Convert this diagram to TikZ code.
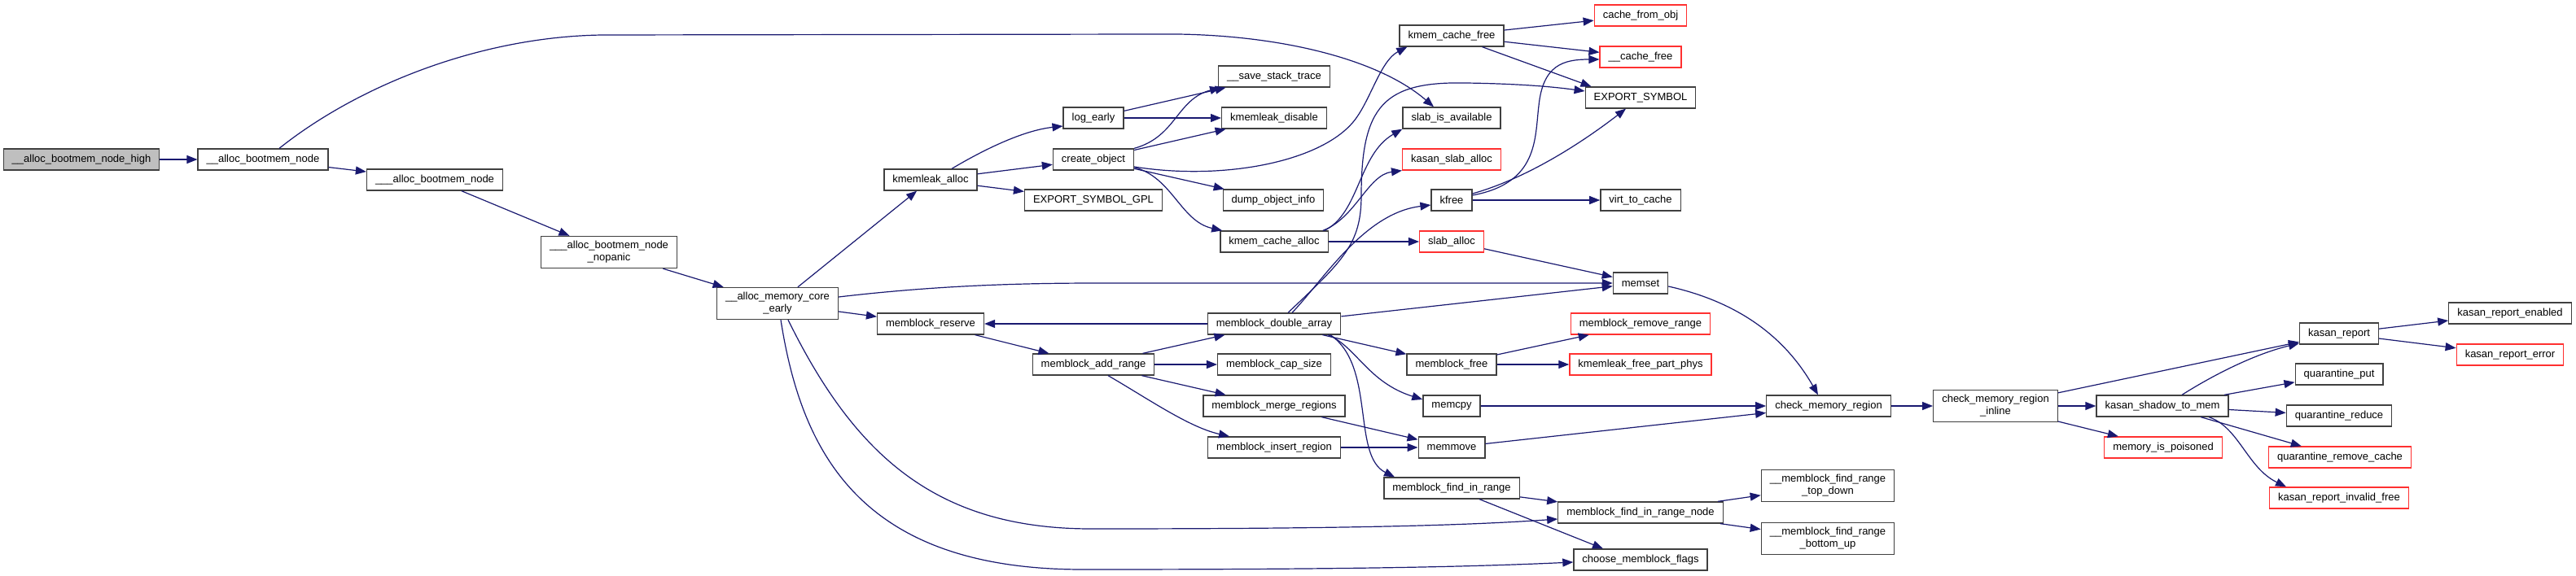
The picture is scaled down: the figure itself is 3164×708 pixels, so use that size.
\documentclass[tikz,border=0pt]{standalone}
\usepackage{fontspec}
\setmainfont{Liberation Sans}
\usetikzlibrary{arrows.meta}
\definecolor{edgeblue}{HTML}{191970}
\definecolor{trunc}{HTML}{FF3030}
\definecolor{rootgray}{HTML}{BFBFBF}

\begin{document}
\begin{tikzpicture}[
  x=1pt, y=-1pt,
  font=\fontsize{13}{15}\selectfont,
  fn/.style={draw=black!75, line width=1.3pt, fill=white, minimum height=26pt,
             inner xsep=10.5pt, inner ysep=6pt, align=center},
  fnred/.style={fn, draw=trunc},
  fnroot/.style={fn, fill=rootgray},
  call/.style={-{Triangle[length=13pt,width=10pt]}, line width=1.2pt, edgeblue}
]
\useasboundingbox (0,0) rectangle (3164,708);
% ---------------- bootmem chain ----------------
\node[fnroot] (root) at (100,196) {\_\_alloc\_bootmem\_node\_high};
\node[fn] (abn) at (323,196) {\_\_alloc\_bootmem\_node};
\node[fn] (abn3) at (534,221) {\_\_\_alloc\_bootmem\_node};
\node[fn] (nopanic) at (748,310) {\_\_\_alloc\_bootmem\_node\\\_nopanic};
\node[fn] (core) at (955,373) {\_\_alloc\_memory\_core\\\_early};
% ---------------- kmemleak ----------------
\node[fn] (kmalloc) at (1143,221) {kmemleak\_alloc};
\node[fn] (logearly) at (1343,145) {log\_early};
\node[fn] (createobj) at (1343,196) {create\_object};
\node[fn] (expgpl) at (1343,246) {EXPORT\_SYMBOL\_GPL};
\node[fn] (savestack) at (1565,94) {\_\_save\_stack\_trace};
\node[fn] (kmdisable) at (1565,145) {kmemleak\_disable};
\node[fn] (dumpobj) at (1564,246) {dump\_object\_info};
\node[fn] (kcalloc) at (1565,297) {kmem\_cache\_alloc};
% ---------------- slab ----------------
\node[fn] (kcfree) at (1783,44) {kmem\_cache\_free};
\node[fn] (slabavail) at (1783,145) {slab\_is\_available};
\node[fnred] (kasanslab) at (1783,196) {kasan\_slab\_alloc};
\node[fn] (kfree) at (1783,246) {kfree};
\node[fnred] (slaballoc) at (1783,297) {slab\_alloc};
\node[fnred] (cachefromobj) at (2015,19) {cache\_from\_obj};
\node[fnred] (cachefree) at (2015,70) {\_\_cache\_free};
\node[fn] (expsym) at (2015,120) {EXPORT\_SYMBOL};
\node[fn] (virtcache) at (2015,246) {virt\_to\_cache};
\node[fn] (memset) at (2015,348) {memset};
% ---------------- memblock ----------------
\node[fn] (mreserve) at (1143,398) {memblock\_reserve};
\node[fn] (maddrange) at (1343,448) {memblock\_add\_range};
\node[fn] (mdouble) at (1565,398) {memblock\_double\_array};
\node[fn] (mcapsize) at (1565,448) {memblock\_cap\_size};
\node[fn] (mmerge) at (1565,499) {memblock\_merge\_regions};
\node[fn] (minsert) at (1565,550) {memblock\_insert\_region};
\node[fn] (mfree) at (1783,448) {memblock\_free};
\node[fn] (memcpy) at (1783,499) {memcpy};
\node[fn] (memmove) at (1783,550) {memmove};
\node[fn] (mfindrange) at (1783,600) {memblock\_find\_in\_range};
\node[fnred] (mremove) at (2015,398) {memblock\_remove\_range};
\node[fnred] (kmfreephys) at (2015,448) {kmemleak\_free\_part\_phys};
\node[fn] (mfindnode) at (2015,630) {memblock\_find\_in\_range\_node};
\node[fn] (chooseflags) at (2015,688) {choose\_memblock\_flags};
\node[fn] (topdown) at (2245,597) {\_\_memblock\_find\_range\\\_top\_down};
\node[fn] (bottomup) at (2245,662) {\_\_memblock\_find\_range\\\_bottom\_up};
% ---------------- kasan ----------------
\node[fn] (checkmem) at (2246,499) {check\_memory\_region};
\node[fn] (checkinline) at (2451,499) {check\_memory\_region\\\_inline};
\node[fn] (shadowmem) at (2656,499) {kasan\_shadow\_to\_mem};
\node[fnred] (poisoned) at (2657,550) {memory\_is\_poisoned};
\node[fn] (kreport) at (2873,410) {kasan\_report};
\node[fn] (qput) at (2873,460) {quarantine\_put};
\node[fn] (qreduce) at (2873,511) {quarantine\_reduce};
\node[fnred] (qremove) at (2874,562) {quarantine\_remove\_cache};
\node[fnred] (kinvalid) at (2873,612) {kasan\_report\_invalid\_free};
\node[fn] (kenabled) at (3083,385) {kasan\_report\_enabled};
\node[fnred] (kerror) at (3083,436) {kasan\_report\_error};
% ---------------- straight calls ----------------
\foreach \a/\b in {root/abn, abn/abn3, abn3/nopanic, nopanic/core, core/kmalloc,
    core/mreserve, kmalloc/createobj, kmalloc/expgpl, logearly/savestack,
    logearly/kmdisable, createobj/kmdisable, createobj/dumpobj, kcalloc/slaballoc,
    kcfree/cachefromobj, kcfree/cachefree, kfree/virtcache, slaballoc/memset,
    mreserve/maddrange, maddrange/mdouble, maddrange/mcapsize, maddrange/mmerge,
    mdouble/mreserve, mdouble/memset, mdouble/mfree, mfree/mremove,
    mfree/kmfreephys, mmerge/memmove, minsert/memmove, memcpy/checkmem,
    memmove/checkmem, mfindrange/mfindnode, mfindnode/topdown, mfindnode/bottomup,
    checkmem/checkinline, checkinline/kreport, checkinline/shadowmem,
    checkinline/poisoned, shadowmem/qput, shadowmem/qreduce, shadowmem/qremove,
    kreport/kenabled, kreport/kerror}
  \draw[call] (\a) -- (\b);
\draw[call] (kcfree) -- ([xshift=8pt]expsym.north west);
\draw[call] (mfindrange) -- ([xshift=-46pt]chooseflags.north);
% ---------------- curved calls ----------------
\draw[call] ([xshift=20pt]abn.north) .. controls (440,105) and (590,45) .. (740,43)
  -- (1420,42) .. controls (1560,40) and (1690,70) .. ([xshift=-22pt]slabavail.north);
\draw[call] ([yshift=8pt]core.east) .. controls (1150,351) and (1250,348) .. (1350,348) -- (memset);
\draw[call] ([xshift=13pt]core.south) .. controls (1050,560) and (1150,650) .. (1340,650)
  .. controls (1650,650) and (1800,646) .. ([yshift=-8pt]mfindnode.west);
\draw[call] ([xshift=4pt]core.south) .. controls (985,560) and (1060,700) .. (1330,700)
  .. controls (1650,700) and (1800,697) .. ([yshift=-3pt]chooseflags.west);
\draw[call] ([xshift=26pt]kmalloc.north) .. controls (1215,180) and (1260,160) .. ([yshift=-10pt]logearly.west);
\draw[call] (createobj.north east) .. controls (1445,168) and (1445,122) .. ([xshift=3pt]savestack.south west);
\draw[call] ([yshift=4pt]createobj.south east) .. controls (1440,218) and (1450,272) .. ([xshift=3pt]kcalloc.north west);
\draw[call] ([yshift=-9pt]createobj.east) .. controls (1500,222) and (1620,200) .. (1662,150)
  .. controls (1683,125) and (1695,75) .. ([xshift=10pt]kcfree.south west);
\draw[call] ([xshift=-5pt]kcalloc.north east) .. controls (1670,262) and (1668,190) .. (slabavail.south west);
\draw[call] ([xshift=-7pt]kcalloc.north east) .. controls (1665,268) and (1680,215) .. (kasanslab.south west);
\draw[call] ([xshift=17pt]mdouble.north) .. controls (1650,320) and (1672,300) .. (1672,240)
  .. controls (1672,130) and (1700,100) .. (1800,102)
  .. controls (1870,103) and (1910,107) .. ([yshift=8pt]expsym.west);
\draw[call] ([xshift=22pt]mdouble.north) .. controls (1625,345) and (1675,262) .. ([yshift=-6pt]kfree.west);
\draw[call] ([yshift=6pt]kfree.east) .. controls (1890,225) and (1885,170) .. (1890,130)
  .. controls (1895,80) and (1920,73) .. ([yshift=-3pt]cachefree.west);
\draw[call] ([yshift=8pt]kfree.east) .. controls (1880,218) and (1950,170) .. ([xshift=-18pt]expsym.south);
\draw[call] ([yshift=-4pt]memset.east) .. controls (2130,370) and (2190,410) .. ([xshift=-13pt]checkmem.north);
\draw[call] ([xshift=18pt]maddrange.south) .. controls (1410,490) and (1460,525) .. ([xshift=-55pt]minsert.north);
\draw[call] ([xshift=66pt]mdouble.south) .. controls (1665,425) and (1680,470) .. ([yshift=8pt]memcpy.west);
\draw[call] ([xshift=69pt]mdouble.south) .. controls (1690,450) and (1660,560) .. ([xshift=-70pt]mfindrange.north);
\draw[call] ([xshift=24pt]shadowmem.north) .. controls (2720,460) and (2770,435) .. ([yshift=-12pt]kreport.west);
\draw[call] ([xshift=57pt]shadowmem.south) .. controls (2750,525) and (2760,575) .. ([xshift=-65pt]kinvalid.north);
\end{tikzpicture}
\end{document}
